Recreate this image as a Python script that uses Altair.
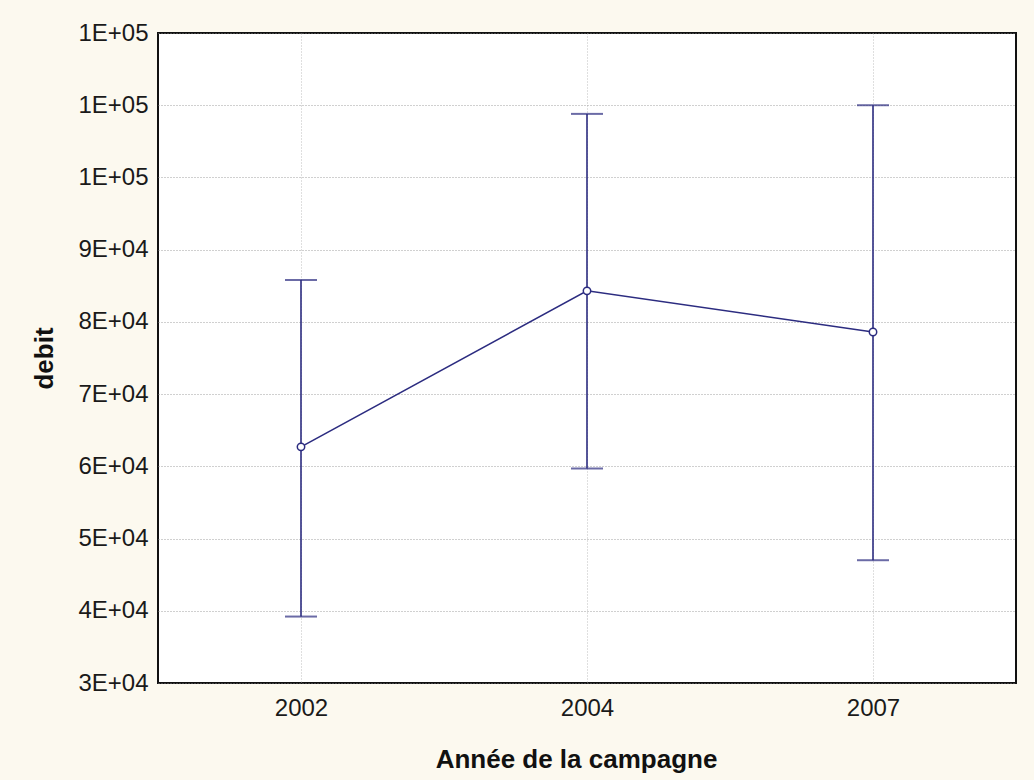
import altair as alt
import pandas as pd

# Campaign years and the measured flow ("debit"): mean with lower / upper bounds
years = ["2002", "2004", "2007"]
mean_debit = [62700, 84300, 78600]
lower_debit = [39200, 59700, 47000]
upper_debit = [85800, 108800, 110000]

df = pd.DataFrame({
    "annee": years,
    "debit": mean_debit,
    "bas": lower_debit,
    "haut": upper_debit,
})

LINE = "#2c2c80"
FONT = "Liberation Sans"

y_ticks = list(range(30000, 130001, 10000))

x_enc = alt.X(
    "annee:N",
    sort=years,
    scale=alt.Scale(type="point", padding=0.5),
    axis=alt.Axis(
        title="Année de la campagne",
        labelAngle=0,
        labelFontSize=24,
        labelPadding=13,
        titleFontSize=26,
        titlePadding=26,
        titleX=418,
        ticks=False,
        domain=False,
        grid=True,
        gridColor="#b0b0b0",
    ),
)

y_scale = alt.Scale(domain=[30000, 120000], nice=False, zero=False)
y_axis = alt.Axis(
    title="debit",
    values=y_ticks,
    labelExpr="format(datum.value / pow(10, floor(log(datum.value) / LN10 + 1e-9)), '.0f') + 'E+0' + floor(log(datum.value) / LN10 + 1e-9)",
    labelFontSize=24,
    labelPadding=10,
    titleFontSize=26,
    titlePadding=20,
    ticks=False,
    domain=False,
    grid=True,
)

base = alt.Chart(df)

whisker = base.mark_rule(color=LINE, strokeWidth=1.6).encode(
    x=x_enc,
    y=alt.Y("bas:Q", scale=y_scale, axis=y_axis),
    y2="haut:Q",
)
cap_low = base.mark_tick(color=LINE, thickness=2, size=32).encode(
    x=x_enc, y=alt.Y("bas:Q", scale=y_scale)
)
cap_high = base.mark_tick(color=LINE, thickness=2, size=32).encode(
    x=x_enc, y=alt.Y("haut:Q", scale=y_scale)
)
mean_line = base.mark_line(color=LINE, strokeWidth=1.6).encode(
    x=x_enc, y=alt.Y("debit:Q", scale=y_scale)
)
mean_pts = base.mark_point(
    shape="circle", filled=True, fill="white", stroke=LINE, strokeWidth=1.5, size=55, opacity=1
).encode(x=x_enc, y=alt.Y("debit:Q", scale=y_scale))

chart = (
    alt.layer(whisker, mean_line, cap_low, cap_high, mean_pts)
    .properties(
        width=858,
        height=650,
        autosize=alt.AutoSizeParams(type="none"),
        padding={"left": 158, "top": 33, "right": 18, "bottom": 97},
        background="#fcf9ef",
    )
    .configure_view(stroke="#111111", strokeWidth=2, fill="white")
    .configure_axis(
        labelFont=FONT,
        titleFont=FONT,
        labelColor="#1a1a1a",
        titleColor="#111111",
        titleFontWeight="bold",
        gridColor="#8a8a8a",
        gridDash=[1, 2],
        gridWidth=1,
        gridOpacity=0.8,
    )
)

chart.save("out.html", embed_options={"renderer": "svg", "actions": False})
